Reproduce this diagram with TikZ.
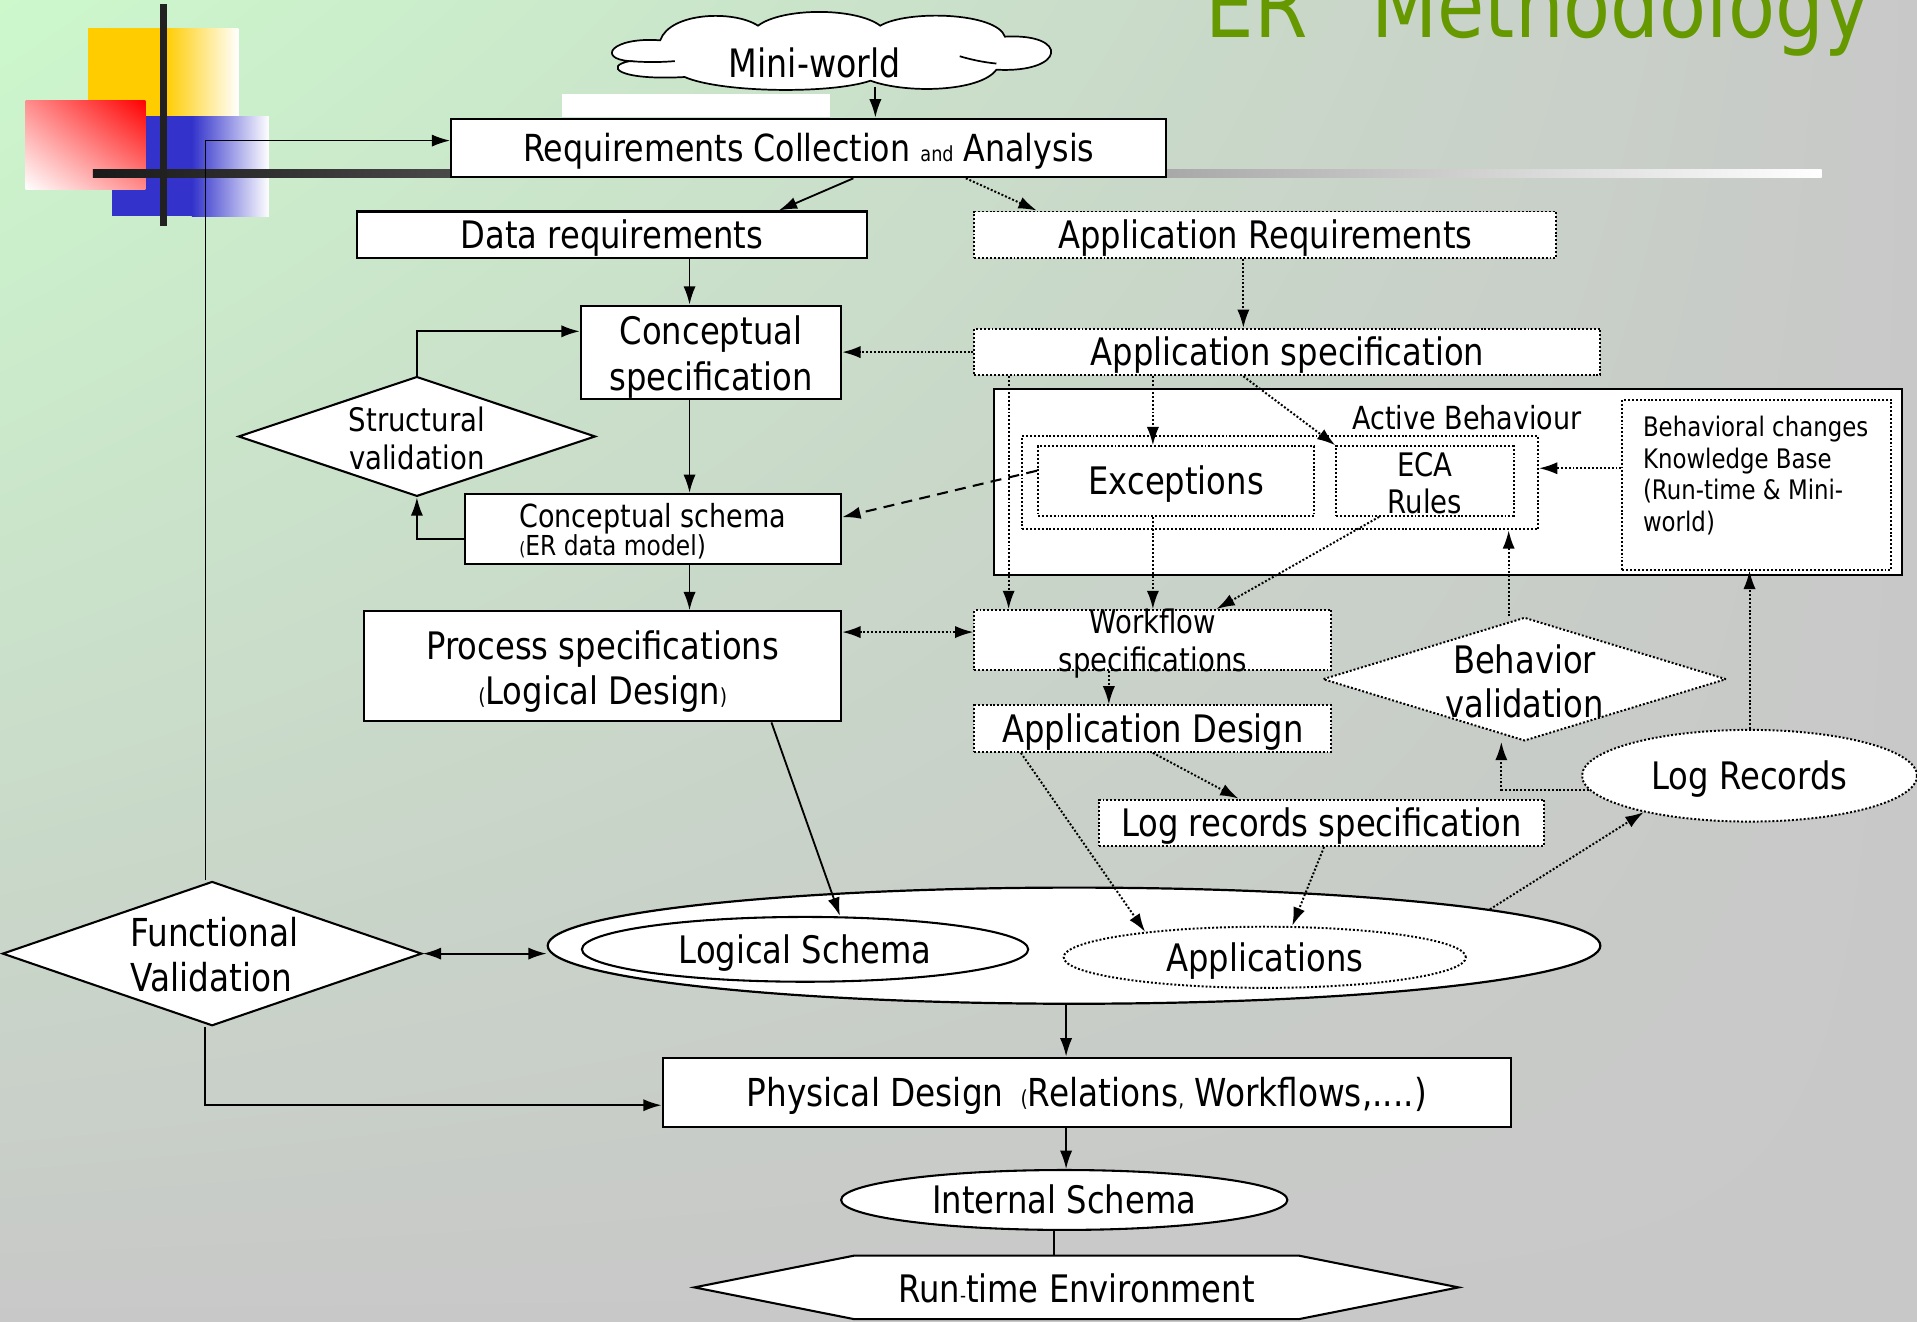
\documentclass[tikz,border=0pt]{standalone}
\usepackage{fontspec}
\setmainfont{DejaVu Sans}[FakeStretch=0.85]
\usetikzlibrary{arrows.meta,shapes.geometric,shapes.symbols,shadings}
\definecolor{bggreen}{RGB}{204,248,204}
\definecolor{bggray}{RGB}{200,200,200}
\definecolor{titlegreen}{RGB}{102,153,0}
\definecolor{logoyellow}{RGB}{255,204,0}
\definecolor{logoblue}{RGB}{51,51,204}
\definecolor{logored}{RGB}{255,0,0}
\newcommand\fsz[2]{\fontsize{#1}{#2}\selectfont}
\begin{document}
\begin{tikzpicture}[x=1pt,y=-1pt,
  sbox/.style={draw, line width=1.7pt, fill=white, inner sep=0pt, align=center},
  dotln/.style={line width=1.6pt, dash pattern=on 1.6pt off 1.6pt},
  dbox/.style={draw, dotln, fill=white, inner sep=0pt, align=center},
  arr/.style={-{Latex[length=15pt,width=10pt]}, line width=1.5pt},
  darr/.style={arr, dotln},
  dasharr/.style={arr, line width=1.7pt, dash pattern=on 9pt off 6pt},
  thinln/.style={line width=1.3pt},
  t31/.style={font=\fsz{31}{37}, text height=22.6pt, text depth=0pt},
]
\useasboundingbox (0,0) rectangle (1568,1081);
% background
\shade[upper left=bggreen, upper right=bggray, lower left=bggray, lower right=bggray] (0,0) rectangle (1568,1081);
% logo
\fill[logoyellow] (72,23) rectangle (135,95);
\shade[left color=logoyellow, right color=white] (135,23) rectangle (195,95);
\fill[logoblue] (92,95) rectangle (157,177);
\shade[left color=logoblue, right color=white] (157,95) rectangle (220,177);
\shade[upper right=logored, lower left=white, upper left=logored!45!white, lower right=logored!45!white] (21,82) rectangle (119,155);
\fill[white] (460,77) rectangle (679,96);
\shade[left color=black!90, middle color=black!24, right color=white] (76,139) rectangle (1490,145.5);
\fill[black!87] (130.5,3) rectangle (136.5,185);
% title
\node[anchor=base west, text=titlegreen, font=\fsz{74}{80}, inner sep=0pt] (title) at (986,30.5) {ER\hspace{52pt}Methodology};

% cloud outline of Mini-world
\draw[line width=1.4pt, fill=white]
  (540,33) .. controls (500,30) and (488,48) .. (515,50)
  .. controls (494,54) and (505,66) .. (560,63)
  .. controls (590,76) and (680,77) .. (712,66)
  .. controls (742,77) and (802,75) .. (815,57)
  .. controls (872,60) and (875,27) .. (822,30)
  .. controls (815,10) and (742,8) .. (720,21)
  .. controls (700,6) and (640,6) .. (620,21)
  .. controls (600,8) and (548,10) .. (540,33) -- cycle;
\draw[line width=1.4pt] (515,50) .. controls (528,51) and (540,51) .. (552,50);
\draw[line width=1.4pt] (785,46) .. controls (795,49) and (805,51) .. (815,52);
\node[ellipse, inner sep=0pt, minimum width=362pt, minimum height=54pt,
  label={[font=\fsz{32}{36}, xshift=-13.5pt, yshift=-7.5pt]center:Mini-world}] (mini) at (680,44) {};

% nodes
\node[sbox, minimum width=585pt, minimum height=48pt, font=\fsz{30.5}{36}, text height=22.2pt, text depth=0pt] (req) at (661.5,121) {Requirements Collection {\fsz{17}{20}and} Analysis};
\node[sbox, minimum width=417pt, minimum height=38pt, t31] (datareq) at (500.5,192) {Data requirements};
\node[dbox, minimum width=476pt, minimum height=38pt, t31] (appreq) at (1035,192) {Application Requirements};
\node[sbox, minimum width=213pt, minimum height=76pt,
  label={[align=center, font=\fsz{31}{37}, yshift=-4pt]center:{Conceptual\\specification}}] (cspec) at (581.5,288) {};
\node[dbox, minimum width=512pt, minimum height=38pt, t31] (appspec) at (1053,288) {Application specification};
\node[diamond, draw, fill=white, line width=1.7pt, inner sep=0pt, minimum width=292pt, minimum height=98pt,
  label={[align=center, font=\fsz{26.5}{31}, yshift=-1.5pt]center:{Structural\\validation}}] (sv) at (341,357) {};
\node[sbox, minimum width=308pt, minimum height=57pt,
  label={[align=left, yshift=-2pt]center:{{\fsz{26}{28}Conceptual schema}\\{\fsz{22.5}{28}{\fsz{15}{15}(}ER data model)}}}] (cschema) at (534,432.5) {};
\node[sbox, minimum width=390pt, minimum height=90pt,
  label={[align=center, font=\fsz{31}{37}, yshift=-4pt]center:{Process specifications\\{\fsz{18}{18}(}Logical Design{\fsz{18}{18})}}}] (proc) at (493,545) {};

% active behaviour container
\node[sbox, minimum width=743pt, minimum height=152pt] (actbox) at (1184.5,394) {};
\node[dbox, minimum width=422pt, minimum height=76pt] (ab) at (1047,395) {};
\node[font=\fsz{26}{30}, inner sep=0pt] (abl) at (1200,342) {Active Behaviour};
\node[dbox, minimum width=226pt, minimum height=57pt, t31] (exc) at (962,393.5) {Exceptions};
\node[dbox, minimum width=145pt, minimum height=57pt,
  label={[align=center, font=\fsz{26.5}{30}, yshift=-2pt]center:{ECA\\Rules}}] (eca) at (1165.5,393.5) {};
\node[dbox, minimum width=220pt, minimum height=139pt] (kb) at (1437,396.5) {};
\node[align=left, font=\fsz{22}{26}, inner sep=0pt] (kbt) at (1436,389) {Behavioral changes\\Knowledge Base\\(Run-time \& Mini-\\world)};

\node[dbox, minimum width=292pt, minimum height=49pt,
  label={[align=center, font=\fsz{26.5}{31}, yshift=-3pt]center:{Workflow\\specifications}}] (wf) at (943,523.5) {};
\node[dbox, minimum width=292pt, minimum height=38pt, t31] (ad) at (943,596) {Application Design};
\node[dbox, minimum width=364pt, minimum height=38pt, t31] (lrs) at (1081,673) {Log records specification};
\node[diamond, draw, dotln, fill=white, inner sep=0pt, minimum width=330pt, minimum height=101pt,
  label={[align=center, font=\fsz{31}{36}, yshift=-2pt]center:{Behavior\\validation}}] (bv) at (1247,555.5) {};
\node[ellipse, draw, dotln, fill=white, inner sep=0pt, minimum width=274pt, minimum height=75pt, t31] (logrec) at (1431,634.5) {Log Records};

\node[ellipse, draw, line width=1.8pt, fill=white, inner sep=0pt, minimum width=861pt, minimum height=95pt] (big) at (878.5,773.5) {};
\node[ellipse, draw, line width=1.7pt, fill=white, inner sep=0pt, minimum width=365pt, minimum height=53pt, t31] (logic) at (658.5,776.5) {Logical Schema};
\node[ellipse, draw, dotln, fill=white, inner sep=0pt, minimum width=329pt, minimum height=50pt, t31] (apps) at (1034.5,783) {Applications};
\node[diamond, draw, fill=white, line width=1.7pt, inner sep=0pt, minimum width=343pt, minimum height=118pt,
  label={[align=left, font=\fsz{31.5}{37}, xshift=2pt, yshift=-1pt]center:{Functional\\Validation}}] (fv) at (173.5,780) {};
\node[sbox, minimum width=694pt, minimum height=57pt, font=\fsz{31.5}{37}, text height=23pt, text depth=0pt] (phys) at (889,893.5)
  {Physical Design\hspace{14pt}{\fsz{18}{18}(}Relations{\fsz{18}{18},} Workflows,....)};
\node[ellipse, draw, line width=1.7pt, fill=white, inner sep=0pt, minimum width=365pt, minimum height=49pt, t31] (internal) at (870.5,981.5) {Internal Schema};
\node[signal, signal to=west and east, signal pointer angle=22.5, draw, line width=1.7pt, fill=white, inner sep=0pt,
  minimum width=625pt, minimum height=52pt,
  label={[font=\fsz{31}{34}, yshift=-1pt]center:{Run{\fsz{16}{16}-}time Environment}}] (rt) at (880.5,1053) {};

% connectors
\draw[arr] (mini.south -| 716,0) -- (req.north -| 716,0);
\draw[arr] (req.south -| 698,0) -- (datareq.north -| 637,0);
\draw[darr] (req.south -| 790,0) -- (appreq.north -| 848,0);
\draw[arr] (datareq.south -| 564,0) -- (cspec.north -| 564,0);
\draw[darr] (appreq.south -| 1017,0) -- (appspec.north -| 1017,0);
\draw[darr] (appspec.west) -- (cspec.east);
\draw[arr] (sv.north) |- (cspec.west |- 0,271);
\draw[arr] (cschema.west |- 0,441) -| (sv.south);
\draw[arr] (cspec.south -| 564,0) -- (cschema.north -| 564,0);
\draw[arr] (cschema.south -| 564,0) -- (proc.north -| 564,0);
\draw[dasharr] (exc.west |- 0,385) -- (cschema.east |- 0,423);
\draw[darr] (appspec.south -| 825,0) -- (wf.north -| 825,0);
\draw[darr] (appspec.south -| 943,0) -- (exc.north -| 943,0);
\draw[darr] (appspec.south -| 1017,0) -- (eca.north west);
\draw[darr] (exc.south -| 943,0) -- (wf.north -| 943,0);
\draw[darr] (eca.south -| 1128,0) -- (wf.north -| 995,0);
\draw[darr] (kb.west |- 0,383) -- (ab.east |- 0,383);
\draw[darr] (bv.north -| 1234,0) -- (ab.south -| 1234,0);
\draw[darr, {Latex[length=15pt,width=10pt]}-{Latex[length=15pt,width=10pt]}] (proc.east |- 0,517) -- (wf.west |- 0,517);
\draw[darr] (wf.south -| 907,0) -- (ad.north -| 907,0);
\draw[darr] (ad.south -| 835,0) -- (apps.168);
\draw[darr] (ad.south -| 943,0) -- (lrs.north -| 1013,0);
\draw[darr] (lrs.south -| 1083,0) -- (apps.north -| 1057,0);
\draw[darr] (big.5) -- (logrec.199);
\draw[darr] (logrec.185) -| (bv.south -| 1228,0);
\draw[darr] (logrec.north) -- (kb.south -| 1431,0);
\draw[arr] (proc.south -| 631,0) -- (logic.north -| 687,0);
\draw[arr, {Latex[length=15pt,width=10pt]}-{Latex[length=15pt,width=10pt]}] (fv.east) -- (big.west |- fv.east);
\draw[arr] (fv.south -| 168,0) |- (phys.west |- 0,904);
\draw[arr, thinln] (fv.north -| 168,0) |- (req.west |- 0,115);
\draw[arr] (big.south -| 872,0) -- (phys.north -| 872,0);
\draw[arr] (phys.south -| 872,0) -- (internal.north -| 872,0);
\draw[thinln] (internal.south -| 862,0) -- (rt.north -| 862,0);
\end{tikzpicture}
\end{document}
